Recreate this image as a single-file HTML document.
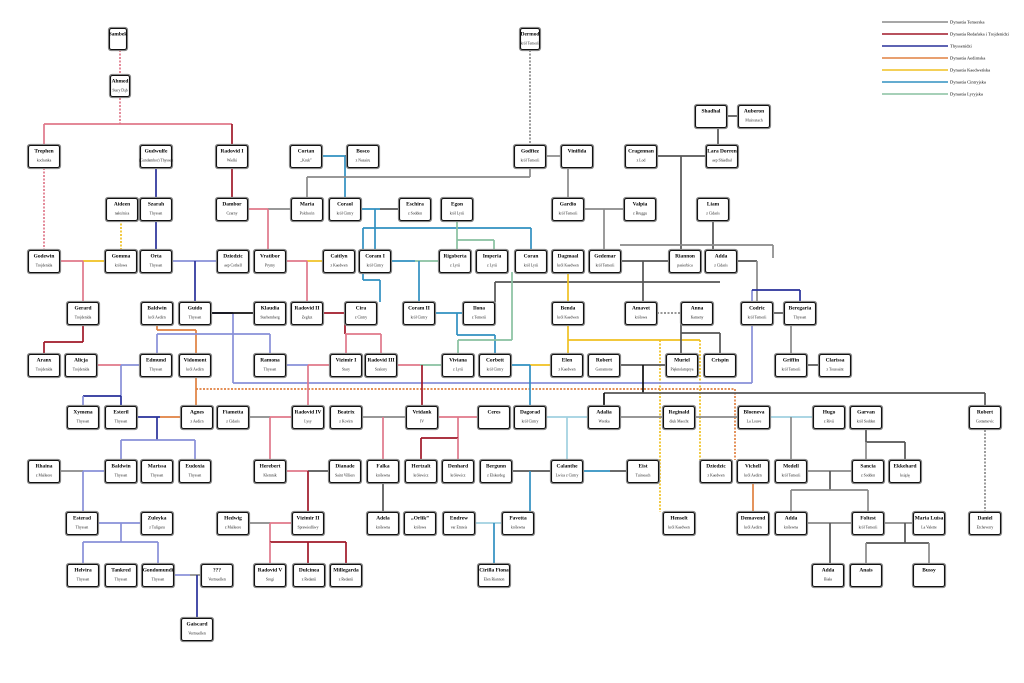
<!DOCTYPE html>
<html><head><meta charset="utf-8"><style>
html,body{margin:0;padding:0;background:#fff;width:1024px;height:683px;overflow:hidden}
svg{display:block}
text{font-family:"Liberation Serif",serif}
</style></head><body>
<svg id="s" width="1024" height="683" viewBox="0 0 1024 683" xmlns="http://www.w3.org/2000/svg">
<g id="L" fill="none" stroke-width="1.7"></g>
<g id="N"></g>
<g id="G"></g>
</svg>
<script>
var GR="#8a8a8a",DG="#555",RD="#a01828",PK="#e0788a",BL="#28309a",LB="#8890d8",OR="#e08040",YL="#f0c020",CY="#3090c0",LC="#a0d0e0",GN="#88c0a0",BK="#111";
var lines=[
[PK,1,120,50,120,75],[PK,1,120,98,120,124],[PK,0,44,124,232,124],[PK,0,44,124,44,145],[RD,0,232,124,232,145],
[PK,1,44,168,44,250],[RD,0,232,168,232,198],[BL,0,156,168,156,198],[BL,0,156,220,156,250],[YL,1,121,220,121,250],
[PK,0,60,261,83,261],[YL,0,83,261,105,261],[PK,0,83,261,83,302],[RD,0,83,326,83,342],[RD,0,44,342,83,342],[RD,0,44,342,44,354],
[LB,0,172,261,217,261],[BL,0,195,261,195,302],[PK,0,248,209,268,209],[GR,0,268,209,291,209],[PK,0,268,209,268,250],
[PK,0,286,261,307,261],[YL,0,307,261,323,261],[PK,0,307,261,307,302],[CY,0,322,156,345,156],[DG,0,345,156,347,156],[CY,0,345,156,345,198],
[GR,0,530,168,530,177],[GR,0,307,177,530,177],[GR,0,307,177,307,198],[CY,0,361,209,380,209],[DG,0,380,209,399,209],[CY,0,375,209,375,250],
[CY,0,363,228,531,228],[CY,0,531,228,531,250],[CY,0,363,228,363,280],[CY,0,363,280,380,280],[CY,0,380,280,380,302],
[GN,0,457,220,457,240],[GN,0,457,240,494,240],[GN,0,494,240,494,250],[GN,0,457,240,457,250],
[CY,0,391,261,415,261],[GN,0,415,261,439,261],[CY,0,419,261,419,302],
[RD,0,323,313,345,313],[RD,0,345,313,345,334],[PK,0,345,334,381,334],[PK,0,346,334,346,354],[PK,0,381,334,381,354],
[CY,0,435,313,463,313],[CY,0,457,313,457,335],[CY,0,457,335,495,335],[CY,0,495,335,495,354],[DG,0,495,282,720,282],[DG,0,495,282,495,302],
[GN,0,512,272,512,340],[GN,0,458,340,512,340],[GN,0,458,340,458,354],
[YL,0,568,272,568,302],[YL,0,568,326,568,354],[YL,0,568,340,700,340],[YL,1,660,340,660,512],[YL,1,700,340,700,460],
[GR,0,546,156,561,156],[GR,0,568,156,568,198],[DG,0,657,156,706,156],[DG,0,681,156,681,250],[DG,0,727,116,738,116],[DG,0,718,116,718,145],
[GR,0,584,209,624,209],[GR,0,604,209,604,250],[DG,0,713,220,713,250],[DG,0,621,261,669,261],[DG,0,643,261,643,302],
[GR,0,620,245,773,245],[GR,0,773,245,773,258],[DG,0,737,261,757,261],[GR,0,757,261,757,302],
[GR,1,657,313,681,313],[DG,0,681,313,681,354],[DG,0,681,333,720,333],[DG,0,720,333,720,354],
[DG,0,773,313,784,313],[GR,0,791,313,791,354],[DG,0,807,365,819,365],
[BL,0,211,313,233,313],[LB,0,233,313,233,383],[LB,0,233,383,752,383],[LB,0,752,383,752,290],[BL,0,752,290,800,290],[BL,0,800,290,800,302],
[BK,0,211,313,254,313],[OR,0,157,326,157,330],[OR,0,157,330,196,330],[OR,0,196,330,196,406],[OR,1,196,389,735,389],[OR,1,735,389,735,460],[OR,0,753,482,753,512],
[LB,0,157,334,270,334],[LB,0,157,334,157,354],[LB,0,270,334,270,354],
[PK,0,97,365,121,365],[LB,0,121,365,140,365],[LB,0,121,365,121,396],[BL,0,83,396,121,396],[LB,0,83,396,83,406],[BL,0,121,396,121,406],
[BL,0,137,417,160,417],[OR,0,160,417,181,417],[BL,0,157,417,157,440],[LB,0,121,440,195,440],[LB,0,121,440,121,460],[LB,0,195,440,195,460],
[GR,0,60,471,83,471],[LB,0,83,471,105,471],[LB,0,83,471,83,512],[LB,0,98,523,141,523],[LB,0,121,523,121,542],[LB,0,83,542,158,542],[LB,0,83,542,83,564],[LB,0,158,542,158,564],
[LB,0,174,575,190,575],[GR,0,190,575,201,575],[BL,0,197,575,197,618],
[LB,0,286,365,308,365],[PK,0,308,365,330,365],[PK,0,308,365,308,406],[PK,0,397,365,420,365],[GN,0,420,365,442,365],[RD,0,422,365,422,406],
[GR,0,249,417,270,417],[PK,0,270,417,292,417],[PK,0,270,417,270,460],[GR,0,362,417,406,417],[PK,0,383,417,383,460],
[PK,0,438,417,478,417],[PK,0,458,417,458,438],[RD,0,421,438,458,438],[RD,0,421,438,421,460],[PK,0,458,438,458,460],
[PK,0,286,471,308,471],[DG,0,308,471,329,471],[RD,0,308,471,308,512],[DG,0,383,482,383,512],
[GR,0,249,523,270,523],[PK,0,270,523,292,523],[PK,0,270,523,270,542],[RD,0,270,542,346,542],[PK,0,270,542,270,564],[RD,0,308,542,308,564],[RD,0,346,542,346,564],
[CY,0,511,365,530,365],[YL,0,530,365,551,365],[CY,0,530,365,530,406],
[DG,0,620,365,666,365],[BK,0,643,365,643,393],[DG,0,604,393,985,393],[BK,0,604,393,604,406],[DG,0,985,393,985,406],
[LC,0,546,417,588,417],[LC,0,567,417,567,460],[GR,0,620,417,663,417],[GR,0,695,417,738,417],[LC,0,770,417,813,417],[GR,0,791,417,791,460],
[DG,0,512,471,551,471],[CY,0,530,471,530,523],[CY,0,518,523,530,523],[LC,0,475,523,502,523],[CY,0,494,523,494,564],[CY,0,583,471,610,471],[DG,0,610,471,627,471],
[DG,0,866,430,866,442],[DG,0,866,442,905,442],[DG,0,905,442,905,460],[GR,0,866,442,866,460],
[GR,0,807,471,852,471],[DG,0,830,471,830,490],[GR,0,791,490,868,490],[GR,0,791,490,791,512],[GR,0,868,490,868,512],
[GR,0,807,523,852,523],[DG,0,830,523,830,564],[GR,0,884,523,913,523],[DG,0,905,523,905,543],[DG,0,866,543,929,543],[GR,0,866,543,866,564],[GR,0,929,543,929,564],
[GR,1,985,430,985,512],[GR,1,530,50,530,145]
];
var nodes=[
[118,28,"Sambek","",18],[530,28,"Dermod","król Temerii",20],[120,75,"Ahmed","Stary Dąb",20],
[711,105,"Shadhal",""],[754,105,"Auberon","Muircetach"],
[44,145,"Trephen","kochanka"],[156,145,"Gudwulfe","(Gundambor) Thyssen"],[232,145,"Radovid I","Wielki"],[306,145,"Cortan","„Kruk”"],[363,145,"Bosco","z Nazairu"],[530,145,"Godfiez","król Temerii"],[577,145,"Vinifida",""],[641,145,"Cragennan","z Lod"],[722,145,"Lara Dorren","aep Shiadhal"],
[122,198,"Aideen","nałożnica"],[156,198,"Szarah","Thyssen"],[232,198,"Dambor","Czarny"],[307,198,"Maria","Polchorin"],[345,198,"Coraol","król Cintry"],[415,198,"Eschira","z Sodden"],[457,198,"Egon","król Lyrii"],[568,198,"Gardio","król Temerii"],[640,198,"Valpia","z Bruggu"],[713,198,"Liam","z Cidaris"],
[44,250,"Godewin","Trojdenida"],[121,250,"Gomma","królowa"],[156,250,"Orta","Thyssen"],[233,250,"Dziedzic","aep Cothell"],[270,250,"Vratibor","Prymy"],[339,250,"Caitlyn","z Kaedwen"],[375,250,"Coram I","król Cintry"],[455,250,"Rigoberta","z Lyrii"],[492,250,"Imperia","z Lyrii"],[531,250,"Coran","król Lyrii"],[568,250,"Dagmaal","król Kaedwen"],[605,250,"Gedemar","król Temerii"],[685,250,"Riannon","pasierbica"],[721,250,"Adda","z Cidaris"],
[83,302,"Gerard","Trojdenida"],[157,302,"Baldwin","król Aedirn"],[195,302,"Guido","Thyssen"],[270,302,"Klaudia","Starhemberg"],[307,302,"Radovid II","Zegluz"],[361,302,"Cira","z Cintry"],[419,302,"Coram II","król Cintry"],[479,302,"Ilona","z Temerii"],[568,302,"Benda","król Kaedwen"],[641,302,"Amavet","królowa"],[697,302,"Anna","Kameny"],[757,302,"Codric","król Temerii"],[800,302,"Beregaria","Thyssen"],
[44,354,"Aranx","Trojdenida"],[81,354,"Alicja","Trojdenida"],[156,354,"Edmund","Thyssen"],[195,354,"Vidomont","król Aedirn"],[270,354,"Ramona","Thyssen"],[346,354,"Vizimir I","Stary"],[381,354,"Radovid III","Szalony"],[458,354,"Viviana","z Lyrii"],[495,354,"Corbett","król Cintry"],[567,354,"Elen","z Kaedwen"],[604,354,"Robert","Garramone"],[682,354,"Muriel","Pięknolamprya"],[720,354,"Crispin",""],[791,354,"Griffin","król Temerii"],[835,354,"Clarissa","z Toussaint"],
[83,406,"Xymena","Thyssen"],[121,406,"Esteril","Thyssen"],[197,406,"Agnes","z Aedirn"],[233,406,"Fiametta","z Cidaris"],[308,406,"Radovid IV","Lysy"],[346,406,"Beatrix","z Kovirn"],[422,406,"Vridank","IV"],[494,406,"Ceres",""],[530,406,"Dagorad","król Cintry"],[604,406,"Adalia","Wretka"],[679,406,"Reginald","diuk Maecht"],[754,406,"Bloeneva","La Louve"],[829,406,"Hugo","z Rivii"],[866,406,"Garvan","król Sodden"],[985,406,"Robert","Gottamovic"],
[44,460,"Rhaina","z Malleore"],[121,460,"Baldwin","Thyssen"],[157,460,"Marissa","Thyssen"],[195,460,"Eudoxia","Thyssen"],[270,460,"Herebert","Klemnik"],[345,460,"Dianade","Saint Villiers"],[383,460,"Falka","królewna"],[421,460,"Hertzalt","królewicz"],[458,460,"Denhard","królewicz"],[496,460,"Bergunn","z Elskerdeg"],[567,460,"Calanthe","Lwica z Cintry"],[643,460,"Eist","Tuirseach"],[716,460,"Dziedzic","z Kaedwen"],[753,460,"Vichell","król Aedirn"],[791,460,"Medell","król Temerii"],[868,460,"Sancia","z Sodden"],[905,460,"Ekkehard","książę"],
[82,512,"Esterad","Thyssen"],[157,512,"Zuleyka","z Tuligaru"],[233,512,"Hedwig","z Malleore"],[308,512,"Vizimir II","Sprawiedliwy"],[383,512,"Adela","królewna"],[420,512,"„Orlik”","królowa"],[459,512,"Endrew","var Emreis"],[518,512,"Pavetta","królewna"],[679,512,"Henselt","król Kaedwen"],[753,512,"Demavend","król Aedirn"],[791,512,"Adda","królewna"],[868,512,"Foltest","król Temerii"],[929,512,"Maria Luisa","La Valette"],[985,512,"Daniel","Etcheverry"],
[83,564,"Helvira","Thyssen"],[121,564,"Tankred","Thyssen"],[158,564,"Gondomundi","Thyssen"],[217,564,"???","Vermuellen"],[270,564,"Radovid V","Srogi"],[309,564,"Dulcinea","z Redanii"],[346,564,"Millegarda","z Redanii"],[494,564,"Cirilla Fiona","Elen Riannon"],[828,564,"Adda","Biała"],[866,564,"Anais",""],[929,564,"Bussy",""],
[197,618,"Gaiscard","Vermuellen"]
];
var ns="http://www.w3.org/2000/svg";
function el(t,a,p){var e=document.createElementNS(ns,t);for(var k in a)e.setAttribute(k,a[k]);p.appendChild(e);return e;}
var L=document.getElementById("L"),N=document.getElementById("N"),G=document.getElementById("G");
lines.forEach(function(l){var a={x1:l[2],y1:l[3],x2:l[4],y2:l[5],stroke:l[0]};if(l[1])a["stroke-dasharray"]="2,1.5";el("line",a,L);});
nodes.forEach(function(n){var w=n[4]||32,h=n[4]?22:23,x=n[0]-w/2,y=n[1];
el("rect",{x:x,y:y,width:w,height:h,rx:2,fill:"#fff",stroke:"#888","stroke-width":2.2},N);
el("rect",{x:x+0.5,y:y+0.5,width:w-1,height:h-1,rx:2,fill:"#fff",stroke:"#111","stroke-width":1.1},N);
var t=el("text",{x:n[0],y:y+7.5,"font-size":5.4,"font-weight":"bold","text-anchor":"middle",fill:"#000"},N);t.textContent=n[2];
if(n[3]){var s=el("text",{x:n[0],y:y+16.5,"font-size":3.8,"text-anchor":"middle",fill:"#222"},N);s.textContent=n[3];}
});
var leg=[[GR,"Dynastia Temerska",22],[RD,"Dynastia Redańska i Trojdenidzi",34],[BL,"Thyssenidzi",46],[OR,"Dynastia Aedirnska",58],[YL,"Dynastia Kaedweńska",70],[CY,"Dynastia Cintryjska",82],[GN,"Dynastia Lyryjska",94]];
leg.forEach(function(g){el("line",{x1:882,y1:g[2],x2:948,y2:g[2],stroke:g[0],"stroke-width":1.5},G);var t=el("text",{x:950,y:g[2]+1.5,"font-size":4.5,fill:"#000"},G);t.textContent=g[1];});
</script>
</body></html>
